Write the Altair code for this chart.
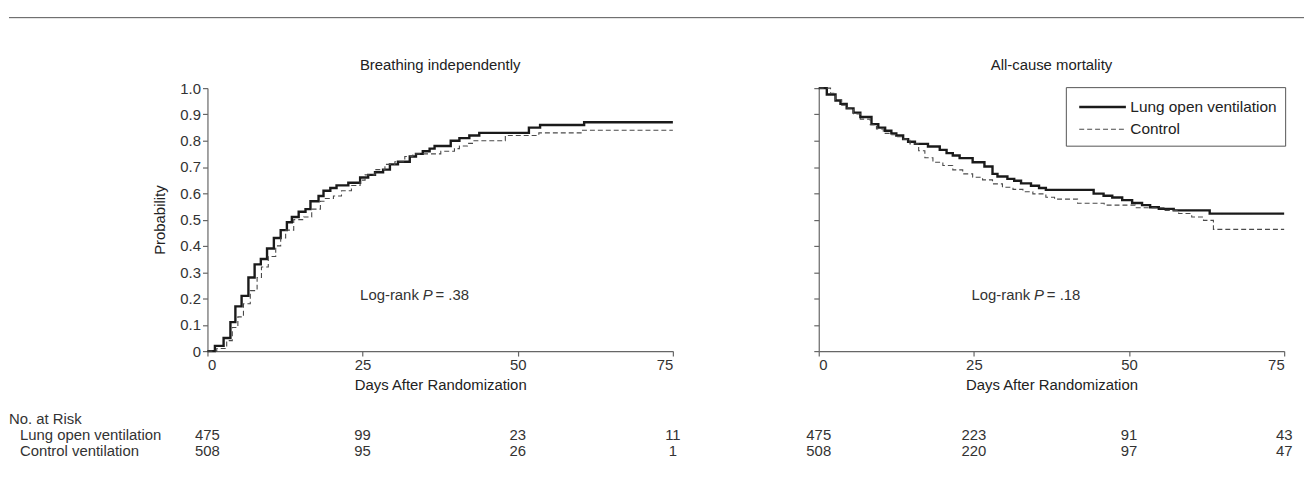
import altair as alt
import pandas as pd

FONT = "Liberation Sans"
GROUPS = ["Lung open ventilation", "Control"]
TICK_DAYS = [0, 25, 50, 75]
PROB_TICKS = [0.0, 0.1, 0.2, 0.3, 0.4, 0.5, 0.6, 0.7, 0.8, 0.9, 1.0]

# ---- Breathing independently (cumulative probability) ----
breath_lung_day = [0, 1.2, 2.6, 3.7, 4.5, 5.5, 6.6, 7.6, 8.6, 9.6, 10.7, 11.8, 12.8, 13.6, 14.7,
                   15.8, 16.6, 17.9, 18.7, 19.8, 20.8, 22.7, 24.6, 25.9, 27.0, 28.3, 29.4, 30.7,
                   32.6, 33.6, 34.7, 35.8, 36.6, 39.2, 40.6, 42.2, 43.8, 51.8, 53.6, 60.7, 75]
breath_lung_prob = [0, 0.02, 0.05, 0.11, 0.17, 0.21, 0.28, 0.33, 0.35, 0.39, 0.43, 0.46, 0.49, 0.51, 0.53,
                    0.54, 0.57, 0.59, 0.61, 0.62, 0.63, 0.64, 0.66, 0.67, 0.68, 0.69, 0.71, 0.72,
                    0.74, 0.75, 0.76, 0.77, 0.78, 0.80, 0.81, 0.82, 0.83, 0.85, 0.86, 0.87, 0.87]
breath_ctrl_day = [0, 1.5, 3.1, 4.0, 4.9, 5.8, 6.9, 8.0, 8.7, 9.8, 11.0, 11.8, 12.6, 13.9, 15.5,
                   16.8, 18.2, 19.0, 20.3, 21.6, 23.2, 24.6, 25.4, 27.0, 28.6, 30.2, 31.8, 33.1,
                   37.6, 39.8, 40.6, 41.9, 42.7, 48.0, 53.4, 60.3, 75]
breath_ctrl_prob = [0, 0.01, 0.04, 0.09, 0.13, 0.18, 0.23, 0.28, 0.32, 0.36, 0.40, 0.43, 0.46, 0.50, 0.51,
                    0.54, 0.57, 0.58, 0.59, 0.61, 0.63, 0.65, 0.67, 0.69, 0.71, 0.72, 0.74, 0.75,
                    0.76, 0.77, 0.78, 0.79, 0.80, 0.82, 0.83, 0.84, 0.84]

# ---- All-cause mortality (survival probability) ----
mort_lung_day = [0, 1.3, 2.7, 3.5, 4.5, 5.6, 6.7, 8.5, 9.6, 10.7, 11.7, 12.5, 13.6, 14.4, 15.5,
                 17.6, 19.5, 20.6, 21.6, 22.7, 24.8, 26.7, 28.0, 28.8, 30.4, 31.5, 32.6, 34.2,
                 35.5, 36.6, 44.3, 45.9, 47.3, 48.9, 50.5, 52.1, 53.4, 54.8, 57.2, 63.0, 75]
mort_lung_prob = [1.0, 0.976, 0.953, 0.94, 0.923, 0.907, 0.89, 0.863, 0.85, 0.838, 0.828, 0.82, 0.806,
                  0.796, 0.788, 0.778, 0.765, 0.753, 0.744, 0.734, 0.718, 0.702, 0.674, 0.664, 0.655,
                  0.648, 0.638, 0.629, 0.62, 0.613, 0.599, 0.591, 0.584, 0.574, 0.563, 0.555, 0.547,
                  0.541, 0.535, 0.523, 0.523]
mort_ctrl_day = [0, 1.9, 2.7, 3.7, 4.5, 5.6, 6.7, 8.3, 9.3, 10.4, 11.5, 12.5, 13.6, 14.7, 16.1,
                 17.1, 18.4, 20.0, 21.6, 23.2, 24.8, 26.4, 28.0, 29.6, 31.3, 32.9, 34.5, 36.6,
                 38.0, 41.7, 46.0, 51.0, 55.8, 58.0, 60.1, 62.0, 63.6, 75]
mort_ctrl_prob = [1.0, 0.98, 0.956, 0.935, 0.925, 0.902, 0.882, 0.861, 0.845, 0.828, 0.823, 0.815,
                  0.806, 0.788, 0.762, 0.735, 0.718, 0.706, 0.689, 0.674, 0.661, 0.651, 0.636, 0.623,
                  0.615, 0.606, 0.598, 0.585, 0.578, 0.562, 0.555, 0.545, 0.535, 0.523, 0.51, 0.497,
                  0.463, 0.463]

# ---- Numbers at risk ----
risk_breath_lung = [475, 99, 23, 11]
risk_breath_ctrl = [508, 95, 26, 1]
risk_mort_lung = [475, 223, 91, 43]
risk_mort_ctrl = [508, 220, 97, 47]
risk_row_labels = ["No. at Risk", "Lung open ventilation", "Control ventilation"]

panel_titles = ["Breathing independently", "All-cause mortality"]
pvalue_texts = ["= .38", "= .18"]

W, H = 469, 265
FS = 15
TXT = "#333333"


def curves_df(ld, lp, cd, cp):
    return pd.concat([
        pd.DataFrame({"day": ld, "prob": lp, "group": GROUPS[0]}),
        pd.DataFrame({"day": cd, "prob": cp, "group": GROUPS[1]}),
    ], ignore_index=True)


def make_panel(ld, lp, cd, cp, risk_l, risk_c, title, ptxt, left):
    xs = alt.Scale(domain=[0, 75], nice=False, zero=False)
    ys = alt.Scale(domain=[0, 1], nice=False)
    x_axis = alt.Axis(values=TICK_DAYS, title="Days After Randomization", titlePadding=5)
    if left:
        y_axis = alt.Axis(values=PROB_TICKS, title="Probability", titlePadding=12,
                          labelOverlap=False, tickCount=11,
                          labelExpr="datum.value == 0 ? '0' : format(datum.value, '.1f')")
        legend = None
    else:
        y_axis = alt.Axis(values=PROB_TICKS, title=None, labels=False,
                          labelOverlap=False, tickCount=11)
        legend = alt.Legend(title=None, orient="none", legendX=249, legendY=-1,
                            symbolType="M-2.2,0H2.2", symbolSize=457, labelFontSize=15.5,
                            labelColor="#222222", strokeColor="#555555", fillColor="white",
                            padding=8, rowPadding=2, symbolOffset=17, labelOffset=16)
    x = alt.X("day:Q", scale=xs, axis=x_axis)
    y = alt.Y("prob:Q", scale=ys, axis=y_axis)

    lines = alt.Chart(curves_df(ld, lp, cd, cp)).mark_line(interpolate="step-after").encode(
        x=x, y=y,
        color=alt.Color("group:N", scale=alt.Scale(domain=GROUPS, range=["#1a1a1a", "#4a4a4a"]),
                        legend=legend),
        strokeDash=alt.StrokeDash("group:N", scale=alt.Scale(domain=GROUPS, range=[[1, 0], [5, 3]]),
                                  legend=legend),
        strokeWidth=alt.StrokeWidth("group:N", scale=alt.Scale(domain=GROUPS, range=[2.4, 1.1]),
                                    legend=legend),
    )

    title_layer = alt.Chart(pd.DataFrame({"t": [title]})).mark_text(
        fontSize=FS, color="#222222", baseline="middle", align="center"
    ).encode(x=alt.value(W / 2), y=alt.value(-23), text="t:N")

    pdf = pd.DataFrame({"day": [24.6], "prob": [0.215]})
    p1 = alt.Chart(pdf.assign(t="Log-rank")).mark_text(
        fontSize=FS, color=TXT, align="left", baseline="middle").encode(x="day:Q", y="prob:Q", text="t:N")
    p2 = alt.Chart(pdf.assign(t="P")).mark_text(
        fontSize=FS, color=TXT, align="left", baseline="middle", fontStyle="italic", dx=63
    ).encode(x="day:Q", y="prob:Q", text="t:N")
    p3 = alt.Chart(pdf.assign(t=ptxt)).mark_text(
        fontSize=FS, color=TXT, align="left", baseline="middle", dx=76
    ).encode(x="day:Q", y="prob:Q", text="t:N")

    r1 = alt.Chart(pd.DataFrame({"day": TICK_DAYS, "n": risk_l})).mark_text(
        fontSize=FS, color=TXT, baseline="middle").encode(x="day:Q", y=alt.value(350), text="n:Q")
    r2 = alt.Chart(pd.DataFrame({"day": TICK_DAYS, "n": risk_c})).mark_text(
        fontSize=FS, color=TXT, baseline="middle").encode(x="day:Q", y=alt.value(366), text="n:Q")

    layers = [lines, title_layer, p1, p2, p3, r1, r2]

    if left:
        lab_df = pd.DataFrame({"t": risk_row_labels})
        for i, (xv, yv) in enumerate([(-200, 333), (-189, 350), (-189, 366)]):
            layers.append(alt.Chart(lab_df.iloc[[i]]).mark_text(
                fontSize=FS, color=TXT, align="left", baseline="middle"
            ).encode(x=alt.value(xv), y=alt.value(yv), text="t:N"))
        layers.append(alt.Chart(pd.DataFrame({"k": [0]})).mark_rule(
            color="#555555", strokeWidth=1).encode(
            x=alt.value(-200), x2=alt.value(1105), y=alt.value(-71)))

    return alt.layer(*layers).properties(width=W, height=H)


left = make_panel(breath_lung_day, breath_lung_prob, breath_ctrl_day, breath_ctrl_prob,
                  risk_breath_lung, risk_breath_ctrl, panel_titles[0], pvalue_texts[0], True)
right = make_panel(mort_lung_day, mort_lung_prob, mort_ctrl_day, mort_ctrl_prob,
                   risk_mort_lung, risk_mort_ctrl, panel_titles[1], pvalue_texts[1], False)

chart = alt.hconcat(left, right, spacing=147, bounds="flush").resolve_scale(
    color="independent", strokeDash="independent", strokeWidth="independent"
).resolve_legend(
    color="independent", strokeDash="independent", strokeWidth="independent"
).properties(
    padding={"left": 0, "top": 7, "right": 0, "bottom": 0}
).configure(font=FONT).configure_view(stroke=None).configure_axis(
    domainColor="#666666", tickColor="#666666", tickSize=5, labelPadding=2,
    labelColor=TXT, labelFontSize=FS, titleFontSize=FS, titleColor="#222222",
    titleFontWeight="normal", grid=False, domainWidth=1.2, tickWidth=1.2
)

chart.save("out.html", embed_options={"renderer": "svg", "actions": False})
